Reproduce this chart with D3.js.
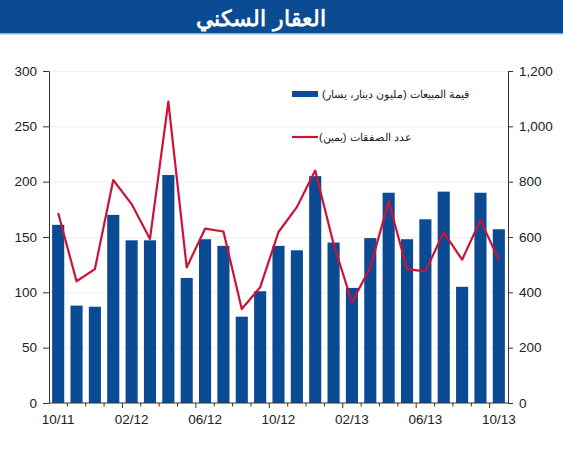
<!DOCTYPE html>
<html>
<head>
<meta charset="utf-8">
<script src="https://cdnjs.cloudflare.com/ajax/libs/d3/7.8.5/d3.min.js"></script>
<style>
  body { margin: 0; background: #fff; font-family: "Liberation Sans", Arial, sans-serif; }
  svg text { font-family: "Liberation Sans", Arial, sans-serif; }
</style>
</head>
<body>
<div id="chart"></div>
<script>
const months = ["10/11","11/11","12/11","01/12","02/12","03/12","04/12","05/12","06/12","07/12","08/12","09/12",
  "10/12","11/12","12/12","01/13","02/13","03/13","04/13","05/13","06/13","07/13","08/13","09/13","10/13"];
const salesValue = [161, 88, 87, 170, 147, 147, 206, 113, 148, 142, 78, 101,
  142, 138, 205, 145, 104, 149, 190, 148, 166, 191, 105, 190, 157];
const dealsCount = [687, 440, 484, 806, 719, 593, 1089, 490, 630, 620, 340, 418,
  618, 708, 840, 575, 364, 490, 729, 484, 476, 617, 518, 661, 517];
const tickLabels = ["10/11","02/12","06/12","10/12","02/13","06/13","10/13"];

const title = "العقار السكني";
const legendSales = "قيمة المبيعات (مليون دينار، يسار)";
const legendDeals = "عدد الصفقات (يمين)";

const W = 563, H = 450;
const margin = {top: 71, right: 55, bottom: 47, left: 49};
const width = W - margin.left - margin.right;
const height = H - margin.top - margin.bottom;

const svg = d3.select("#chart").append("svg")
    .attr("width", W)
    .attr("height", H);

// title bar
svg.append("rect").attr("x", 0).attr("y", 0).attr("width", W).attr("height", 33).attr("fill", "#0a4b94");
svg.append("rect").attr("x", 0).attr("y", 33).attr("width", W).attr("height", 1.5).attr("fill", "#8fb0d6");
svg.append("text")
    .attr("x", 261).attr("y", 26)
    .attr("text-anchor", "middle")
    .attr("fill", "#fff")
    .style("font-size", "22px")
    .style("font-weight", "bold")
    .text(title);

const g = svg.append("g").attr("transform", `translate(${margin.left},${margin.top})`);

const x = d3.scaleBand().domain(months).range([0, width]).paddingInner(0.34).paddingOuter(0.17);
const yL = d3.scaleLinear().domain([0, 300]).range([height, 0]);
const yR = d3.scaleLinear().domain([0, 1200]).range([height, 0]);

// gridlines
g.append("g")
    .call(d3.axisLeft(yL).tickValues(d3.range(50, 301, 50)).tickSize(-width).tickFormat(""))
    .call(s => s.select(".domain").remove())
    .call(s => s.selectAll("line").attr("stroke", "#efefef"));

// bars
g.selectAll(".bar")
    .data(salesValue)
    .enter().append("rect")
    .attr("class", "bar")
    .attr("x", (d, i) => x(months[i]))
    .attr("y", d => yL(d))
    .attr("width", x.bandwidth())
    .attr("height", d => height - yL(d))
    .attr("fill", "#0a4b94");

// line
g.append("path")
    .datum(dealsCount)
    .attr("fill", "none")
    .attr("stroke", "#cc1236")
    .attr("stroke-width", 2.2)
    .attr("stroke-linejoin", "round")
    .attr("d", d3.line().x((d, i) => x(months[i]) + x.bandwidth() / 2).y(d => yR(d)));

// left axis
const axL = g.append("g")
    .call(d3.axisLeft(yL).tickValues(d3.range(0, 301, 50)).tickSize(6).tickPadding(6).tickSizeOuter(0));
// right axis
const axR = g.append("g")
    .attr("transform", `translate(${width},0)`)
    .call(d3.axisRight(yR).tickValues(d3.range(0, 1201, 200)).tickSize(5).tickPadding(6).tickSizeOuter(0)
        .tickFormat(d3.format(",")));
[axL, axR].forEach(a => {
    a.select(".domain").attr("stroke", "#333");
    a.selectAll("line").attr("stroke", "#333");
    a.selectAll("text").style("font-size", "13.5px").attr("fill", "#222");
});

// bottom axis: ticks at band boundaries, labels at band centres
const step = x.step();
const xb = g.append("g").attr("transform", `translate(0,${height})`);
xb.append("line").attr("x1", 0).attr("x2", width).attr("stroke", "#333");
xb.selectAll(".bt")
    .data(d3.range(1, months.length))
    .enter().append("line")
    .attr("x1", i => i * step).attr("x2", i => i * step)
    .attr("y1", 0).attr("y2", i => (i % 4 === 0) ? 5 : 3.5)
    .attr("stroke", "#333");
xb.selectAll(".lbl")
    .data(tickLabels)
    .enter().append("text")
    .attr("x", d => x(d) + x.bandwidth() / 2)
    .attr("y", 21)
    .attr("text-anchor", "middle")
    .attr("fill", "#222")
    .style("font-size", "13.5px")
    .text(d => d);

// legend (rtl text, "end" = left edge, next to the swatch)
const lg = svg.append("g");
lg.append("rect").attr("x", 292).attr("y", 91).attr("width", 26).attr("height", 6).attr("fill", "#0a4b94");
lg.append("text").attr("x", 322).attr("y", 98)
    .attr("direction", "rtl").style("direction", "rtl")
    .attr("text-anchor", "end")
    .style("font-size", "11.2px").attr("fill", "#222")
    .text(legendSales);
lg.append("line").attr("x1", 292).attr("x2", 318).attr("y1", 137).attr("y2", 137)
    .attr("stroke", "#cc1236").attr("stroke-width", 2.2);
lg.append("text").attr("x", 319).attr("y", 141)
    .attr("direction", "rtl").style("direction", "rtl")
    .attr("text-anchor", "end")
    .style("font-size", "11.2px").attr("fill", "#222")
    .text(legendDeals);
</script>
</body>
</html>
